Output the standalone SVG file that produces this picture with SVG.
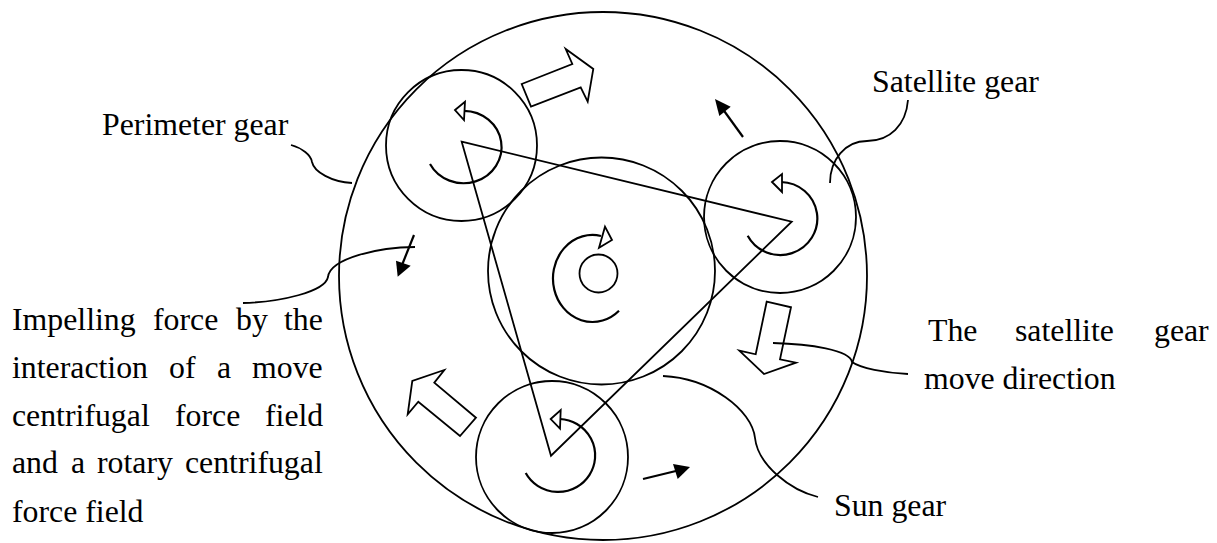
<svg xmlns="http://www.w3.org/2000/svg" width="1217" height="543" viewBox="0 0 1217 543">
<style>
.s{fill:none;stroke:#000;stroke-width:1.8}
.a{fill:none;stroke:#000;stroke-width:2.2}
.h{fill:#fff;stroke:#000;stroke-width:1.8;stroke-linejoin:miter}
.k{fill:#000;stroke:none}
text{font-family:"Liberation Serif","Times New Roman",serif;font-size:31.8px;fill:#000}
</style>
<rect width="1217" height="543" fill="#fff"/>
<g id="outer-gear"><circle class="s" cx="603" cy="276" r="264"/></g>
<g id="perimeter-gear"><circle class="s" cx="461.5" cy="145.5" r="75.5"/>
<path class="a" d="M430 164A38 36.2 0 1 0 464 110.8"/><polygon class="h" points="455,110 465,101.7 464,120"/></g>
<g id="satellite-gear"><circle class="s" cx="780" cy="217" r="76"/>
<path class="a" d="M747.7 235.7A37 36.5 0 1 0 781 182"/><polygon class="h" points="772,182 782,174 782,192"/></g>
<g id="planet-gear"><circle class="s" cx="552" cy="457" r="76"/>
<path class="a" d="M525.7 473A37 36.5 0 1 0 560 419"/><polygon class="h" points="550.7,419 560.7,410 560,428.7"/></g>
<g id="sun-gear"><circle class="s" cx="601.5" cy="271" r="113.5"/><circle class="s" cx="598.5" cy="273.5" r="19"/>
<path class="a" d="M619 310.7A39.5 43.5 0 1 1 601 236"/><polygon class="h" points="605,226.7 612,240 599,247.7"/></g>
<g id="triangle"><polygon class="s" points="461.7,141.7 791.7,221.7 551,455.7"/></g>
<g id="big-arrows">
<polygon class="h" points="521.7,84 572.3,64 565.7,49 593.3,69 587.7,101.7 580.7,87.3 531,106.7"/>
<polygon class="h" points="476,417.7 434.3,382.7 444.3,370 412.3,381 407.7,414.3 418.3,401.7 460,436"/>
<polygon class="h" points="766.7,301.7 791,307.3 780,359.3 796,362.7 764,374 739.3,350.7 755.7,354.3"/>
</g>
<g id="connectors">
<path class="s" d="M908 100C906 125 890 141 867 141C845 141 830 160 830 183"/>
<path class="s" d="M291 145C302 148 311 155 312 162C314 172 332 182 352 183"/>
<path class="s" d="M243 303C280 302 325 292 328 277C330 258 380 247 415 247"/>
<path class="s" d="M773 343C810 344 850 350 852 362C860 368 885 373 908 374"/>
<path class="s" d="M663 376C710 378 752 410 755 438C758 465 790 490 818 497"/>
<path class="a" d="M743 137L722 108"/><polygon class="k" points="715,99 730.7,106.7 719.3,116"/>
<path class="a" d="M414 235L402 265"/><polygon class="k" points="397.7,276.7 396,260.7 410.7,265.7"/>
<path class="a" d="M643 479L680 470"/><polygon class="k" points="690,467 673,464 677.7,479"/>
</g>
<g id="labels">
<text x="102" y="135">Perimeter gear</text>
<text x="872" y="92">Satellite gear</text>
<text x="834" y="516">Sun gear</text>
<text x="12" y="330">Impelling</text><text x="153" y="330">force</text><text x="236" y="330">by</text><text x="284" y="330">the</text>
<text x="12" y="378">interaction</text><text x="169" y="378">of</text><text x="217" y="378">a</text><text x="252" y="378">move</text>
<text x="12" y="425.500">centrifugal</text><text x="175" y="425.500">force</text><text x="265" y="425.500">field</text>
<text x="12" y="473">and</text><text x="71" y="473">a</text><text x="97" y="473">rotary</text><text x="185" y="473">centrifugal</text>
<text x="12" y="521.500">force field</text>
<text x="924" y="389">move direction</text>
<text x="928" y="341">The</text><text x="1015" y="341">satellite</text><text x="1154" y="341">gear</text>
</g>
</svg>
